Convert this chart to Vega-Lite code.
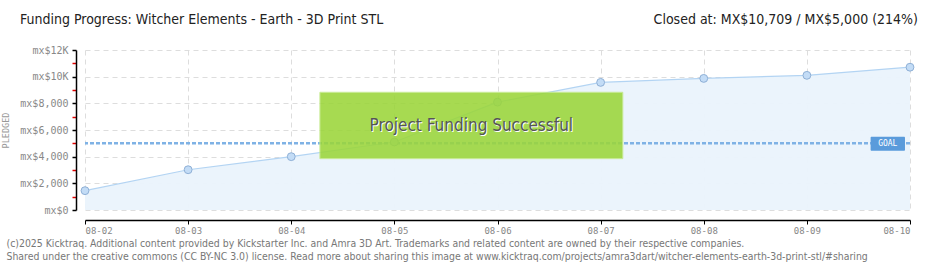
{
  "$schema": "https://vega.github.io/schema/vega-lite/v6.json",
  "width": 825,
  "height": 160,
  "autosize": {"type": "none"},
  "padding": {"left": 85, "top": 50, "right": 30, "bottom": 60},
  "background": "#ffffff",
  "config": {"view": {"stroke": null}, "font": "DejaVu Sans Condensed"},
  "resolve": {"axis": {"x": "independent", "y": "independent"}},
  "datasets": {
    "pledges": [
      {"date": "2025-08-02", "pledged": 1450},
      {"date": "2025-08-03", "pledged": 3020},
      {"date": "2025-08-04", "pledged": 4000},
      {"date": "2025-08-05", "pledged": 5100},
      {"date": "2025-08-06", "pledged": 8090},
      {"date": "2025-08-07", "pledged": 9570},
      {"date": "2025-08-08", "pledged": 9870},
      {"date": "2025-08-09", "pledged": 10100},
      {"date": "2025-08-10", "pledged": 10709}
    ]
  },
  "layer": [
    {
      "data": {"name": "pledges"},
      "mark": {"type": "area", "color": "#eaf3fc", "opacity": 0.95},
      "encoding": {
        "x": {
          "field": "date", "type": "temporal",
          "scale": {"domain": ["2025-08-02", "2025-08-10"]},
          "axis": {
            "format": "%m-%d",
            "tickCount": {"interval": "day", "step": 1},
            "offset": 10,
            "domain": true,
            "domainColor": "#000000",
            "domainWidth": 1.5,
            "tickColor": "#000000",
            "tickSize": 4,
            "labelFont": "DejaVu Sans Mono",
            "labelFontSize": 9,
            "labelColor": "#888888",
            "labelPadding": 2,
            "gridColor": "#dddddd",
            "gridDash": [5, 4],
            "title": [
              "(c)2025 Kicktraq. Additional content provided by Kickstarter Inc. and Amra 3D Art. Trademarks and related content are owned by their respective companies.",
              "Shared under the creative commons (CC BY-NC 3.0) license. Read more about sharing this image at www.kicktraq.com/projects/amra3dart/witcher-elements-earth-3d-print-stl/#sharing"
            ],
            "titleX": -79,
            "titleY": 18,
            "titleAlign": "left",
            "titleAnchor": "start",
            "titleBaseline": "top",
            "titleFont": "DejaVu Sans Condensed",
            "titleFontSize": 10.4,
            "titleFontWeight": "normal",
            "titleColor": "#777777",
            "titleLineHeight": 13
          }
        },
        "y": {
          "field": "pledged", "type": "quantitative",
          "scale": {"domain": [0, 12000], "nice": false},
          "axis": {
            "values": [0, 1000, 2000, 3000, 4000, 5000, 6000, 7000, 8000, 9000, 10000, 11000, 12000],
            "offset": 9,
            "domain": true,
            "ticks": true,
            "domainColor": "#000000",
            "domainWidth": 1.5,
            "tickColor": {"condition": {"test": "datum.value % 2000 != 0", "value": "#e00000"}, "value": "#000000"},
            "tickSize": 4,
            "tickWidth": 1.5,
            "labelOverlap": false,
            "labelExpr": "datum.value == 0 ? 'mx$0' : datum.value % 2000 != 0 ? '' : datum.value >= 10000 ? 'mx$' + (datum.value / 1000) + 'K' : 'mx$' + format(datum.value, ',')",
            "labelFont": "DejaVu Sans Mono",
            "labelFontSize": 10,
            "labelColor": "#888888",
            "labelPadding": 4,
            "grid": true,
            "gridColor": {"condition": {"test": "datum.value % 2000 != 0", "value": "rgba(0,0,0,0)"}, "value": "#dddddd"},
            "gridDash": [5, 4],
            "title": "PLEDGED",
            "titleFont": "DejaVu Sans Mono",
            "titleFontSize": 8.5,
            "titleFontWeight": "normal",
            "titleColor": "#999999",
            "titleAngle": -90,
            "titleBaseline": "middle",
            "titleX": -71,
            "titleY": 80
          }
        }
      }
    },
    {
      "data": {"name": "pledges"},
      "mark": {"type": "line", "color": "#b3d4f3", "strokeWidth": 1.2},
      "encoding": {
        "x": {"field": "date", "type": "temporal", "axis": null},
        "y": {"field": "pledged", "type": "quantitative", "axis": null}
      }
    },
    {
      "data": {"values": [{"pledged": 5000}]},
      "mark": {"type": "rule", "color": "#7fb2e5", "strokeWidth": 2.5, "strokeDash": [4, 2]},
      "encoding": {
        "y": {"field": "pledged", "type": "quantitative", "axis": null}
      }
    },
    {
      "data": {"name": "pledges"},
      "mark": {"type": "point", "filled": true, "size": 62, "fill": "#c3dcf6", "stroke": "#8fb0d6", "strokeWidth": 1, "opacity": 1},
      "encoding": {
        "x": {"field": "date", "type": "temporal", "axis": null},
        "y": {"field": "pledged", "type": "quantitative", "axis": null}
      }
    },
    {
      "data": {"values": [{"x1": "2025-08-09T14:50", "x2": "2025-08-09T22:50", "y1": 4450, "y2": 5500}]},
      "mark": {"type": "rect", "color": "#5a9bdb", "cornerRadius": 1},
      "encoding": {
        "x": {"field": "x1", "type": "temporal", "axis": null},
        "x2": {"field": "x2"},
        "y": {"field": "y1", "type": "quantitative", "axis": null},
        "y2": {"field": "y2"}
      }
    },
    {
      "data": {"values": [{"x": "2025-08-09T18:50", "y": 4980, "label": "GOAL"}]},
      "mark": {"type": "text", "color": "#ffffff", "font": "DejaVu Sans Mono", "fontSize": 8, "align": "center", "baseline": "middle"},
      "encoding": {
        "x": {"field": "x", "type": "temporal", "axis": null},
        "y": {"field": "y", "type": "quantitative", "axis": null},
        "text": {"field": "label"}
      }
    },
    {
      "data": {"values": [{"x1": "2025-08-04T06:40", "x2": "2025-08-07T05:10", "y1": 3850, "y2": 8830}]},
      "mark": {"type": "rect", "color": "#9bd63a", "opacity": 0.88, "stroke": "#c4ea8a", "strokeWidth": 1},
      "encoding": {
        "x": {"field": "x1", "type": "temporal", "axis": null},
        "x2": {"field": "x2"},
        "y": {"field": "y1", "type": "quantitative", "axis": null},
        "y2": {"field": "y2"}
      }
    },
    {
      "data": {"values": [{"x": "2025-08-05T17:55", "y": 6320, "label": "Project Funding Successful"}]},
      "mark": {"type": "text", "color": "#ffffff", "font": "DejaVu Sans Condensed", "fontSize": 17, "align": "center", "baseline": "middle", "dx": 1, "dy": 1},
      "encoding": {
        "x": {"field": "x", "type": "temporal", "axis": null},
        "y": {"field": "y", "type": "quantitative", "axis": null},
        "text": {"field": "label"}
      }
    },
    {
      "data": {"values": [{"x": "2025-08-05T17:55", "y": 6320, "label": "Project Funding Successful"}]},
      "mark": {"type": "text", "color": "#555555", "font": "DejaVu Sans Condensed", "fontSize": 17, "align": "center", "baseline": "middle"},
      "encoding": {
        "x": {"field": "x", "type": "temporal", "axis": null},
        "y": {"field": "y", "type": "quantitative", "axis": null},
        "text": {"field": "label"}
      }
    },
    {
      "data": {"values": [{"x": "2025-08-10", "y": 14250, "label": "Closed at:  MX$10,709 / MX$5,000 (214%)"}]},
      "mark": {"type": "text", "color": "#222222", "font": "DejaVu Sans Condensed", "fontSize": 14, "align": "right", "baseline": "middle", "dx": 8},
      "encoding": {
        "x": {"field": "x", "type": "temporal", "axis": null},
        "y": {"field": "y", "type": "quantitative", "axis": null},
        "text": {"field": "label"}
      }
    },
    {
      "data": {"values": [{"x": "2025-08-02", "y": 14250, "label": "Funding Progress: Witcher Elements - Earth - 3D Print STL"}]},
      "mark": {"type": "text", "color": "#222222", "font": "DejaVu Sans Condensed", "fontSize": 14, "align": "left", "baseline": "middle", "dx": -65},
      "encoding": {
        "x": {"field": "x", "type": "temporal", "axis": null},
        "y": {"field": "y", "type": "quantitative", "axis": null},
        "text": {"field": "label"}
      }
    }
  ]
}
